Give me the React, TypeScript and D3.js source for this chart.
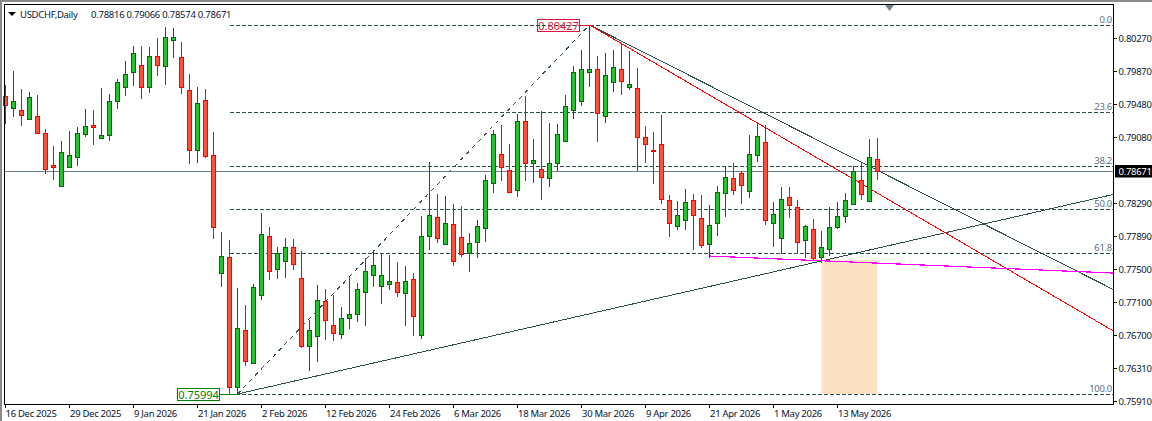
import React from "react";
import * as d3 from "d3";

// Daily prices in points (price x 100000), oldest first
const highs = [79705,79873,79657,79621,79585,79176,78972,79032,79152,79200,79417,79405,79669,79597,79777,79993,80173,80173,80161,80270,80402,80390,80222,79837,79681,79657,79140,77939,77843,77266,77062,77315,78167,77999,77759,77867,77855,77711,76882,77303,77255,77182,77038,77399,77327,77627,77723,77687,77663,77579,77531,77447,78131,78780,78396,78372,78276,78252,77927,78083,78624,79164,79224,78996,79357,79573,79056,79393,79248,79236,79585,79933,80125,80427,80053,80089,80125,80197,80113,79909,79212,79140,79345,78384,78312,78456,78396,78384,78264,78492,78732,78768,78672,79104,79236,79224,78300,78480,78480,78324,78023,78095,77951,78240,78300,78408,78732,78768,79056,79066];
const opens = [79573,79429,79405,79297,79333,79128,78744,78492,78720,78840,79116,79224,79068,79104,79513,79681,79861,79945,79681,80053,79933,80246,80041,79645,78924,79525,78864,77447,77639,76077,76762,76366,77182,77891,77495,77591,77759,77387,76570,76690,77110,76822,76714,76906,76954,77218,77423,77291,77315,77339,77206,77375,76702,77891,78119,77795,78035,77879,77687,77819,77987,78528,78876,78684,78444,79273,78768,78696,78588,78768,79032,79405,79513,79861,79897,79333,79741,79897,79681,79669,79080,78924,78996,78324,78011,78083,78324,78107,77795,78047,78408,78588,78648,78432,78864,79020,78047,77867,78360,78240,77843,77975,77639,77735,77999,78131,78276,78564,78312,78816];
const closes = [79465,79513,79345,79561,79128,78696,78720,78900,78864,79128,79212,79200,79104,79513,79741,79837,80089,79681,80053,79945,80282,80282,79681,78924,79489,78852,77999,77651,76077,76786,76390,77279,77915,77471,77687,77759,77555,76570,76762,77122,76882,76726,76906,76954,77255,77471,77543,77423,77351,77218,77351,76930,77891,78143,77867,78047,77591,77675,77807,78011,78564,79116,78720,78420,79273,78768,78804,78600,78768,79116,79453,79861,79897,79897,79369,79825,79921,79753,79717,79080,78996,78912,78336,78047,78143,78300,78143,77783,78023,78420,78600,78444,78504,78876,79092,78083,78155,78336,78264,77819,78011,77627,77759,77999,78131,78324,78672,78396,78840,78671];
const lows = [79248,79333,79224,79297,79128,78648,78576,78492,78720,78744,79092,78996,79068,79044,79429,79585,79705,79549,79621,79825,79717,80041,79609,78768,78780,78840,77867,77291,76000,75994,76342,76366,77134,77375,77387,77399,77495,76558,76282,76390,76654,76642,76666,76786,76870,76822,77291,77086,77255,77170,76822,76702,76666,77735,77819,77795,77543,77651,77471,77639,77831,78420,78564,78420,78372,78564,78540,78336,78492,78684,79032,79309,79465,79693,79032,79260,79633,79597,79657,78684,78780,78528,78288,77891,77975,77975,77735,77759,77639,77903,78131,78396,78288,78360,78792,78035,77771,77687,78119,77699,77639,77603,77579,77663,77987,78059,78276,78336,78312,78574];

const timeTickIndex = [0,8,16,24,32,40,48,56,64,72,80,88,96,104];
const timeTickLabels = ["16 Dec 2025","29 Dec 2025","9 Jan 2026","21 Jan 2026","2 Feb 2026","12 Feb 2026","24 Feb 2026","6 Mar 2026","18 Mar 2026","30 Mar 2026","9 Apr 2026","21 Apr 2026","1 May 2026","13 May 2026"];
const priceTicks = [80270,79870,79480,79080,78290,77890,77500,77100,76700,76310,75910];

const fibLevels = [0,23.6,38.2,50,61.8,100];
const fibHigh = 80427;
const fibLow = 75994;
const fibStartIndex = 28;
const currentPrice = 78671;

const lastIndex = 138.44; // chart's right edge, in bars
const riseLine = { i: [29, lastIndex], p: [75994, 78390] };
const greyFall = { i: [73, lastIndex], p: [80427, 77251] };
const redFall = { i: [73, lastIndex], p: [80427, 76754] };
const magentaLine = { i: [88, lastIndex], p: [77651, 77447] };
const zone = { i: [102, 109], p: [77603, 75994] };
const title = "USDCHF,Daily";
const ohlcText = "0.78816 0.79066 0.78574 0.78671";

const W = 1152, H = 421;
const left = 5, right = 1113, top = 5, bottom = 404;
const font = "'Noto Sans',sans-serif";
const x = d3.scaleLinear().domain([0, 109]).range([5.5, 877.5]);
const y = d3.scaleLinear().domain([80270, 75910]).range([38, 401]);
const fmt = (p: number) => (p / 100000).toFixed(5);
const px = (v: number) => Math.round(v) + 0.5;
const DARK = "#2f4f4f";
const line = d3.line<number>();
const seg = (s: { i: number[]; p: number[] }) =>
  line.x((_, k) => x(s.i[k])).y((_, k) => y(s.p[k]))(s.p) as string;

const GREEN_S = "#0a6410", GREEN_F = "#24c42c", RED_S = "#ff0000", RED_F = "#ff5238";
const TEXT = "#0a1430";

export default function App() {
  const fibX0 = x(fibStartIndex);
  const fibX1 = x(29);
  return (
    <svg width={W} height={H} viewBox={`0 0 ${W} ${H}`}
      style={{ position: "fixed", left: 0, top: 0, display: "block", background: "#fff", fontFamily: font, fontSize: 9.5, letterSpacing: -0.3 }}>
      <rect x={0} y={0} width={W} height={2} fill="#8a8a8a" />
      <rect x={0} y={0} width={2} height={H} fill="#8a8a8a" />
      <rect x={x(zone.i[0])} y={y(zone.p[0])} width={x(zone.i[1]) - x(zone.i[0])} height={y(zone.p[1]) - y(zone.p[0])} fill="#fde1c3" />
      <line x1={left} x2={right} y1={px(y(currentPrice))} y2={px(y(currentPrice))} stroke="#708090" shapeRendering="crispEdges" />
      {fibLevels.map((l) => {
        const yy = px(y(fibHigh - (l / 100) * (fibHigh - fibLow)));
        return (
          <g key={l}>
            <line x1={fibX0} x2={right} y1={yy} y2={yy} stroke={DARK} strokeDasharray="4 2" shapeRendering="crispEdges" />
            <text x={right - 1} y={yy - 3} textAnchor="end" fill="#5b7086">{l.toFixed(1)}</text>
          </g>
        );
      })}
      <line x1={fibX1} y1={y(fibLow)} x2={x(73)} y2={y(fibHigh)} stroke={DARK} strokeDasharray="4 4.5" shapeRendering="crispEdges" />
      <path d={seg(riseLine)} stroke={DARK} fill="none" shapeRendering="crispEdges" />
      <path d={seg(greyFall)} stroke={DARK} fill="none" shapeRendering="crispEdges" />
      <path d={seg(redFall)} stroke="#ff0000" fill="none" shapeRendering="crispEdges" />
      <path d={seg(magentaLine)} stroke="#ff00ff" strokeWidth={1.2} fill="none" shapeRendering="crispEdges" />
      <g shapeRendering="crispEdges">
        {highs.map((h, i) => {
          const up = closes[i] >= opens[i];
          const stroke = up ? GREEN_S : RED_S;
          const fill = up ? GREEN_F : RED_F;
          const c = x(i);
          const t = px(y(Math.max(opens[i], closes[i])));
          const b = px(y(Math.min(opens[i], closes[i])));
          return (
            <g key={i}>
              <line x1={c} x2={c} y1={Math.round(y(h))} y2={Math.round(y(lows[i])) + 1} stroke={stroke} />
              <rect x={c - 2} y={t} width={4} height={Math.max(b - t, 1)} fill={fill} stroke={stroke} />
            </g>
          );
        })}
      </g>
      <g shapeRendering="crispEdges">
        <line x1={580} x2={x(73)} y1={px(y(fibHigh))} y2={px(y(fibHigh))} stroke="#dc143c" />
        <rect x={537.5} y={19.5} width={42} height={12} fill="none" stroke="#dc143c" />
        <line x1={219} x2={x(29)} y1={px(y(fibLow))} y2={px(y(fibLow))} stroke="#008000" />
        <rect x={177.5} y={388.5} width={42} height={12} fill="none" stroke="#008000" />
      </g>
      <text x={558.5} y={29.5} textAnchor="middle" fill="#dc143c" fontSize={11} letterSpacing={0}>{fmt(fibHigh)}</text>
      <text x={198.5} y={398.5} textAnchor="middle" fill="#008000" fontSize={11} letterSpacing={0}>{fmt(fibLow)}</text>
      <polygon points="8,12 16,12 12,16" fill="#000" />
      <text x={20} y={17.5} fill={TEXT}>{title}</text>
      <text x={91} y={17.5} fill={TEXT} letterSpacing={-0.25}>{ohlcText}</text>
      <polygon points="885,5 894,5 889.5,11" fill="#708090" />
      <rect x={left - 0.5} y={top - 0.5} width={right - left + 1} height={bottom - top + 1} fill="none" stroke="#000" shapeRendering="crispEdges" />
      {priceTicks.map((p) => (
        <g key={p}>
          <line x1={right} x2={right + 4} y1={px(y(p))} y2={px(y(p))} stroke="#000" shapeRendering="crispEdges" />
          <text x={1118.5} y={y(p) + 4} fill={TEXT}>{fmt(p)}</text>
        </g>
      ))}
      <rect x={1115} y={165} width={37} height={12.5} fill="#000" />
      <text x={1118.5} y={175} fill="#fff">{fmt(currentPrice)}</text>
      {timeTickIndex.map((i, k) => (
        <g key={i}>
          <line x1={x(i)} x2={x(i)} y1={bottom} y2={bottom + 4} stroke="#000" shapeRendering="crispEdges" />
          <text x={x(i) + (k === 0 ? 0 : 0.5)} y={417} fill={TEXT}>{timeTickLabels[k]}</text>
        </g>
      ))}
    </svg>
  );
}
